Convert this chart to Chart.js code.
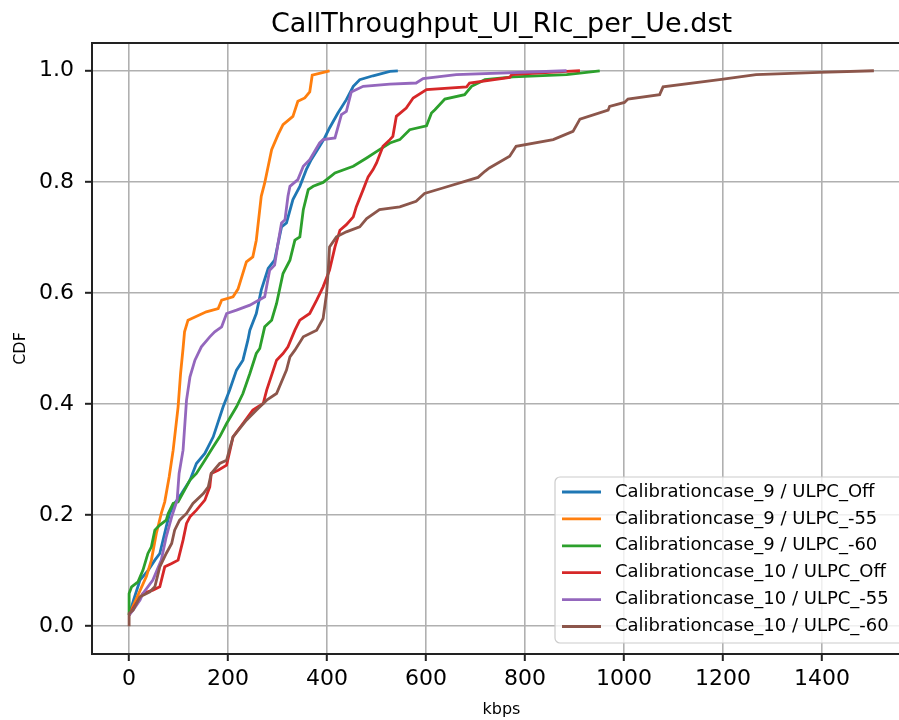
<!DOCTYPE html>
<html>
<head>
<meta charset="utf-8">
<script src="https://cdn.jsdelivr.net/npm/chart.js@4.4.0/dist/chart.umd.min.js"></script>
<style>
body { margin: 0; background: #fff; }
#wrap { width: 899px; height: 720px; overflow: hidden; }
</style>
</head>
<body>
<div id="wrap"><canvas id="grafico-cdf" width="940" height="720"></canvas></div>
<script>
var tituloGrafico = 'CallThroughput_Ul_Rlc_per_Ue.dst';
var etiquetas = ['Calibrationcase_9 / ULPC_Off', 'Calibrationcase_9 / ULPC_-55', 'Calibrationcase_9 / ULPC_-60',
    'Calibrationcase_10 / ULPC_Off', 'Calibrationcase_10 / ULPC_-55', 'Calibrationcase_10 / ULPC_-60'];
var colores = ['#1f77b4', '#ff7f0e', '#2ca02c', '#d62728', '#9467bd', '#8c564b'];
var xTicks = [0, 200, 400, 600, 800, 1000, 1200, 1400];
var yTicks = [0, 0.2, 0.4, 0.6, 0.8, 1.0];

// kbps / CDF
var case9OffX = [0, 10, 22, 38, 52, 62, 75, 82, 92, 106, 123, 136, 153, 170, 190, 203, 217, 230, 240, 244, 257, 267, 281, 294, 308, 318, 331, 345, 358, 368, 385, 395, 405, 422, 439, 453, 466, 493, 527, 543];
var case9OffY = [0.02, 0.05, 0.083, 0.10, 0.119, 0.131, 0.179, 0.203, 0.221, 0.239, 0.263, 0.293, 0.311, 0.341, 0.395, 0.425, 0.461, 0.479, 0.515, 0.533, 0.563, 0.605, 0.644, 0.659, 0.719, 0.726, 0.768, 0.792, 0.822, 0.840, 0.864, 0.879, 0.897, 0.924, 0.948, 0.972, 0.984, 0.991, 0.999, 1.0];

var case9m55X = [0, 20, 35, 45, 55, 65, 72, 81, 89, 99, 104, 109, 112, 119, 156, 180, 187, 210, 220, 237, 250, 257, 267, 274, 288, 301, 311, 331, 341, 355, 365, 370, 405];
var case9m55Y = [0.02, 0.06, 0.09, 0.119, 0.167, 0.203, 0.224, 0.269, 0.317, 0.395, 0.455, 0.50, 0.53, 0.551, 0.566, 0.572, 0.587, 0.593, 0.607, 0.656, 0.665, 0.695, 0.774, 0.798, 0.858, 0.885, 0.903, 0.918, 0.945, 0.951, 0.962, 0.992, 1.0];

var case9m60X = [0, 0, 5, 18, 28, 38, 45, 52, 62, 75, 79, 89, 99, 112, 123, 136, 153, 170, 183, 197, 217, 230, 244, 257, 264, 274, 288, 298, 311, 325, 335, 345, 352, 362, 372, 392, 416, 453, 480, 506, 527, 547, 567, 601, 611, 618, 638, 678, 692, 719, 776, 884, 951];
var case9m60Y = [0.02, 0.059, 0.071, 0.080, 0.101, 0.131, 0.143, 0.173, 0.182, 0.191, 0.203, 0.221, 0.224, 0.245, 0.263, 0.275, 0.299, 0.323, 0.341, 0.365, 0.395, 0.419, 0.455, 0.491, 0.50, 0.539, 0.551, 0.581, 0.635, 0.659, 0.695, 0.701, 0.750, 0.786, 0.792, 0.799, 0.816, 0.828, 0.843, 0.858, 0.870, 0.876, 0.894, 0.901, 0.924, 0.930, 0.949, 0.957, 0.972, 0.984, 0.989, 0.993, 1.0];

var case10OffX = [0, 10, 28, 48, 62, 72, 86, 99, 109, 116, 123, 136, 153, 163, 166, 180, 197, 210, 230, 250, 271, 278, 298, 311, 321, 335, 345, 365, 379, 392, 405, 416, 426, 439, 453, 459, 473, 483, 493, 500, 513, 527, 533, 540, 560, 574, 601, 682, 688, 769, 773, 884, 911];
var case10OffY = [0.02, 0.035, 0.059, 0.065, 0.071, 0.107, 0.113, 0.119, 0.155, 0.185, 0.197, 0.209, 0.227, 0.251, 0.275, 0.281, 0.290, 0.341, 0.365, 0.389, 0.401, 0.425, 0.479, 0.491, 0.503, 0.533, 0.551, 0.563, 0.587, 0.611, 0.641, 0.683, 0.713, 0.723, 0.737, 0.755, 0.786, 0.809, 0.822, 0.834, 0.864, 0.876, 0.882, 0.918, 0.933, 0.951, 0.966, 0.971, 0.978, 0.988, 0.993, 0.999, 1.0];

var case10m55X = [0, 8, 22, 28, 48, 65, 75, 86, 97, 101, 109, 116, 123, 133, 146, 163, 173, 187, 197, 217, 244, 274, 284, 294, 301, 308, 315, 321, 325, 341, 352, 365, 385, 392, 416, 429, 439, 449, 473, 527, 580, 594, 661, 884];
var case10m55Y = [0.02, 0.029, 0.047, 0.059, 0.083, 0.119, 0.161, 0.197, 0.227, 0.275, 0.317, 0.407, 0.449, 0.479, 0.503, 0.521, 0.530, 0.539, 0.563, 0.569, 0.578, 0.593, 0.641, 0.650, 0.690, 0.726, 0.732, 0.774, 0.792, 0.804, 0.828, 0.840, 0.870, 0.876, 0.879, 0.921, 0.927, 0.962, 0.972, 0.976, 0.978, 0.986, 0.993, 1.0];

var case10m60X = [0, 0, 8, 22, 42, 52, 62, 75, 86, 92, 102, 116, 129, 150, 160, 166, 183, 197, 210, 237, 257, 278, 298, 318, 325, 335, 352, 379, 392, 399, 402, 405, 419, 439, 466, 480, 506, 547, 580, 597, 634, 705, 719, 728, 769, 782, 857, 897, 911, 968, 971, 1001, 1008, 1072, 1079, 1193, 1267, 1395, 1505];
var case10m60Y = [0.0, 0.023, 0.029, 0.053, 0.062, 0.071, 0.107, 0.131, 0.149, 0.173, 0.191, 0.203, 0.221, 0.239, 0.251, 0.275, 0.293, 0.299, 0.341, 0.371, 0.389, 0.407, 0.419, 0.461, 0.485, 0.497, 0.521, 0.533, 0.554, 0.599, 0.635, 0.683, 0.701, 0.710, 0.719, 0.734, 0.750, 0.755, 0.765, 0.779, 0.789, 0.808, 0.819, 0.825, 0.846, 0.864, 0.876, 0.891, 0.913, 0.929, 0.936, 0.943, 0.949, 0.957, 0.971, 0.984, 0.993, 0.997, 1.0];

var seriesX = [case9OffX, case9m55X, case9m60X, case10OffX, case10m55X, case10m60X];
var seriesY = [case9OffY, case9m55Y, case9m60Y, case10OffY, case10m55Y, case10m60Y];

var datasets = etiquetas.map(function (label, i) {
    return {
        label: label,
        data: seriesX[i].map(function (x, j) { return { x: x, y: seriesY[i][j] }; }),
        borderColor: colores[i],
        backgroundColor: colores[i],
        borderWidth: 2.8,
        pointRadius: 0,
        tension: 0,
        fill: false,
        order: etiquetas.length - i   // como matplotlib: la ultima serie queda encima
    };
});

var fuente = 'DejaVu Sans';

// marco, titulo y leyenda al estilo matplotlib
var marco = {
    id: 'marco',
    afterDraw: function (chart) {
        var ctx = chart.ctx, a = chart.chartArea;
        ctx.save();
        ctx.strokeStyle = '#222';
        ctx.lineWidth = 2;
        ctx.strokeRect(a.left, a.top, a.right - a.left, a.bottom - a.top);

        ctx.fillStyle = '#000';
        ctx.font = '27px "' + fuente + '"';
        ctx.textAlign = 'center';
        ctx.textBaseline = 'alphabetic';
        ctx.fillText(tituloGrafico, (a.left + a.right) / 2, 32);

        var lx = a.right - 356, ly = a.bottom - 177, lw = 360, lh = 166, r = 5;
        ctx.beginPath();
        ctx.moveTo(lx + r, ly);
        ctx.lineTo(lx + lw - r, ly);
        ctx.arcTo(lx + lw, ly, lx + lw, ly + r, r);
        ctx.lineTo(lx + lw, ly + lh - r);
        ctx.arcTo(lx + lw, ly + lh, lx + lw - r, ly + lh, r);
        ctx.lineTo(lx + r, ly + lh);
        ctx.arcTo(lx, ly + lh, lx, ly + lh - r, r);
        ctx.lineTo(lx, ly + r);
        ctx.arcTo(lx, ly, lx + r, ly, r);
        ctx.closePath();
        ctx.fillStyle = 'rgba(255,255,255,0.8)';
        ctx.fill();
        ctx.strokeStyle = '#cccccc';
        ctx.lineWidth = 1.2;
        ctx.stroke();

        ctx.font = '18px "' + fuente + '"';
        ctx.textAlign = 'left';
        ctx.textBaseline = 'middle';
        chart.data.datasets.forEach(function (ds, i) {
            var y = ly + 15 + i * 26.9;
            ctx.strokeStyle = ds.borderColor;
            ctx.lineWidth = 2.8;
            ctx.beginPath();
            ctx.moveTo(lx + 7, y);
            ctx.lineTo(lx + 46, y);
            ctx.stroke();
            ctx.fillStyle = '#000';
            ctx.fillText(ds.label, lx + 60, y);
        });
        ctx.restore();
    }
};

const ctx = document.getElementById('grafico-cdf');
var myChart = new Chart(ctx, {
    type: 'line',
    data: { datasets: datasets },
    plugins: [marco],
    options: {
        responsive: false,
        animation: false,
        devicePixelRatio: 1,
        layout: { padding: { left: 0, right: 29, top: 43, bottom: 0 } },
        plugins: {
            legend: { display: false },
            title: { display: false },
            tooltip: { enabled: false }
        },
        scales: {
            x: {
                type: 'linear',
                min: -75,
                max: 1580,
                afterFit: function (s) { s.height = 66; },
                afterBuildTicks: function (s) { s.ticks = xTicks.map(function (v) { return { value: v }; }); },
                ticks: {
                    color: '#000',
                    font: { family: fuente, size: 22 },
                    padding: 5,
                    maxRotation: 0,
                    callback: function (v) { return String(v); }
                },
                grid: { color: '#b0b0b0', lineWidth: 1.6, tickColor: '#222', tickLength: 7, tickWidth: 2 },
                border: { display: false },
                title: { display: true, text: 'kbps', color: '#000', font: { family: fuente, size: 16 }, padding: { bottom: 1 } }
            },
            y: {
                type: 'linear',
                min: -0.05,
                max: 1.05,
                afterFit: function (s) { s.width = 92; },
                afterBuildTicks: function (s) { s.ticks = yTicks.map(function (v) { return { value: v }; }); },
                ticks: {
                    color: '#000',
                    font: { family: fuente, size: 22 },
                    padding: 11,
                    callback: function (v) { return v.toFixed(1); }
                },
                grid: { color: '#b0b0b0', lineWidth: 1.6, tickColor: '#222', tickLength: 7, tickWidth: 2 },
                border: { display: false },
                title: { display: true, text: 'CDF', color: '#000', font: { family: fuente, size: 16 }, padding: { top: 11 } }
            }
        }
    }
});
</script>
</body>
</html>
